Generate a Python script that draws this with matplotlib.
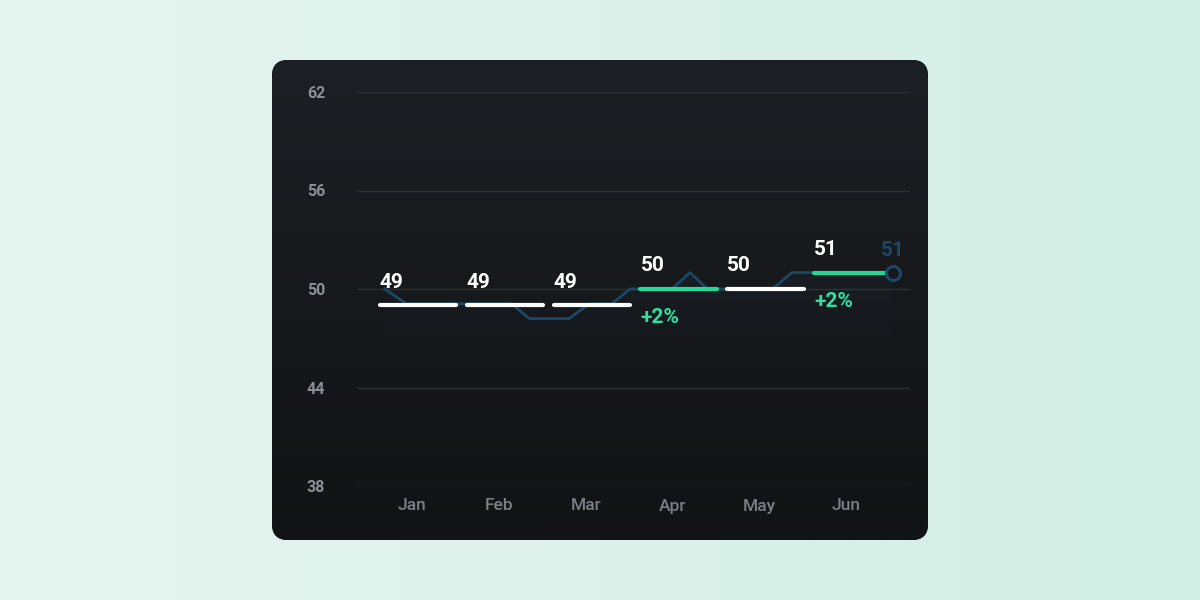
import matplotlib.pyplot as plt
import numpy as np
from matplotlib.patches import FancyBboxPatch, Polygon

# monthly values
months = ['Jan', 'Feb', 'Mar', 'Apr', 'May', 'Jun']
values = [49, 49, 49, 50, 50, 51]
changes = ['', '', '', '+2%', '', '+2%']
highlight = [False, False, False, True, False, True]

# thin trend line (x in month index units)
line_x = [-0.38, -0.13, 1.08, 1.28, 1.74, 1.97, 2.23, 2.44, 2.92, 3.13, 3.33, 4.08, 4.30, 5.46]
line_y = [50, 49.1, 49.1, 48.2, 48.2, 49.1, 49.1, 50, 50, 51, 50, 50, 51, 51]
last_label = '51'

yticks = [38, 44, 50, 56, 62]

W, H = 1200, 600
fig = plt.figure(figsize=(12, 6), dpi=100)

# background + card
bg = fig.add_axes([0, 0, 1, 1])
bg.set_xlim(0, W)
bg.set_ylim(H, 0)
bg.axis('off')

c1 = np.array([0xe6, 0xf4, 0xef]) / 255
c2 = np.array([0xd2, 0xee, 0xe5]) / 255
t = np.linspace(0, 1, 1200)
grad = c1[None, None, :] * (1 - t)[None, :, None] + c2[None, None, :] * t[None, :, None]
grad = np.repeat(grad, 2, axis=0)
bg.imshow(grad, extent=[0, W, H, 0], aspect='auto', zorder=0, interpolation='bilinear')

# soft shadow
for i in range(40):
    g = 1 + i * 1.5
    sh = FancyBboxPatch((272 - g, 68 - g), 656 + 2 * g, 480 + 2 * g,
                        boxstyle='round,pad=0,rounding_size=%f' % (16 + g),
                        fc='#2a6b55', ec='none', alpha=0.0018, zorder=1)
    bg.add_patch(sh)

card = FancyBboxPatch((272, 60), 656, 480, boxstyle='round,pad=0,rounding_size=16',
                      fc='#16191c', ec='none', zorder=2)
bg.add_patch(card)
top = np.array([0x1c, 0x1f, 0x23]) / 255
bot = np.array([0x11, 0x13, 0x15]) / 255
tc = np.linspace(0, 1, 480)
cg = top[None, :] * (1 - tc)[:, None] + bot[None, :] * tc[:, None]
cg = np.repeat(cg[:, None, :], 2, axis=1)
im = bg.imshow(cg, extent=[272, 928, 540, 60], aspect='auto', zorder=3, interpolation='bilinear')
im.set_clip_path(card)

# chart area
ax = fig.add_axes([357 / W, 1 - 486 / H, (910 - 357) / W, (486 - 92) / H])
ax.set_facecolor('none')
for s in ax.spines.values():
    s.set_visible(False)
ax.set_yticks(yticks)
ax.set_yticklabels([str(v) for v in yticks])
x = np.arange(len(months))
ax.set_xticks(x - 0.07)
ax.set_xticklabels(months)
ax.tick_params(axis='y', length=0, pad=23, labelcolor='#8b9096', labelsize=11.5)
ax.tick_params(axis='x', length=0, pad=9, labelcolor='#7b8086', labelsize=12.5)
for lab in ax.get_yticklabels():
    lab.set_fontfamily('Roboto')
    lab.set_fontweight('bold')
for lab in ax.get_xticklabels():
    lab.set_fontfamily('Roboto')
    lab.set_fontweight('medium')
ax.grid(axis='y', color='#2c3035', linewidth=1)
ax.set_axisbelow(True)

# faint fading area under the trend line
floor = 46.0
poly = Polygon(list(zip(line_x, line_y)) + [(line_x[-1], floor), (line_x[0], floor)],
               closed=True, fc='none', ec='none', transform=ax.transData)
ax.add_patch(poly)
fade = np.zeros((100, 2, 4))
fade[..., :3] = np.array([0x2a, 0x5d, 0x80]) / 255
fade[..., 3] = np.linspace(0.07, 0.0, 100)[:, None]
fi = ax.imshow(fade, extent=[line_x[0], line_x[-1], floor, max(line_y)], origin='upper',
               aspect='auto', zorder=1, interpolation='bilinear')
fi.set_clip_path(poly)
ax.set_xlim(-0.70, 5.66)
ax.set_ylim(38, 62)

ax.plot(line_x, line_y, color='#1c4866', linewidth=2, zorder=2)
ax.plot(line_x[-1], line_y[-1], 'o', ms=10, mfc='#15191c', mec='#1c4866', mew=2.2, zorder=4)
ax.annotate(last_label, (line_x[-1], line_y[-1]), xytext=(0, 9), textcoords='offset points',
            ha='center', va='bottom', color='#1c4866', fontsize=15, fontweight='bold',
            family='Roboto', zorder=5)

half = 0.44
for i, (v, ch, hl) in enumerate(zip(values, changes, highlight)):
    col = '#22d89b' if hl else '#ffffff'
    ax.plot([i - half, i + half], [v, v], color=col, linewidth=3, solid_capstyle='round', zorder=3)
    ax.annotate(str(v), (i - half, v), xytext=(0, 10), textcoords='offset points',
                ha='left', va='bottom', color='white', fontsize=15, fontweight='bold',
                family='Roboto', zorder=5)
    if ch:
        ax.annotate(ch, (i - half, v), xytext=(0, -14), textcoords='offset points',
                    ha='left', va='top', color='#2ee0a0', fontsize=15, fontweight='bold',
                    family='Roboto', zorder=5)

fig.savefig('out.png', dpi=100)
